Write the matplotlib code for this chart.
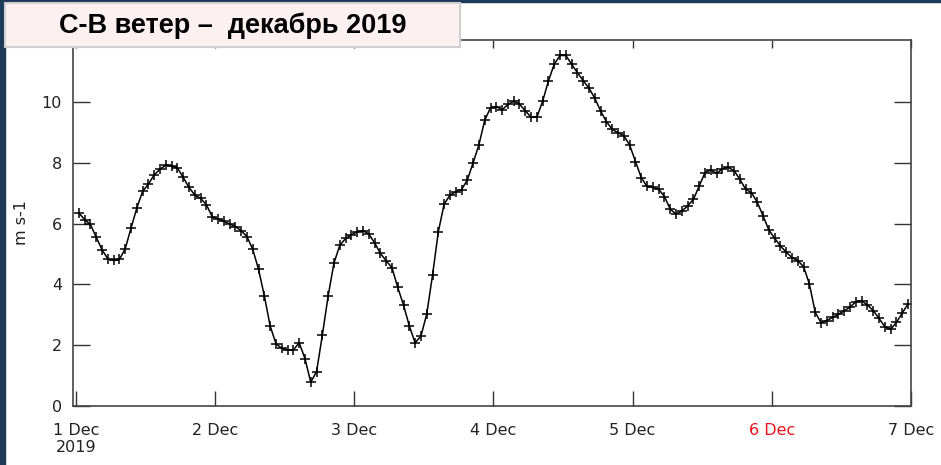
import numpy as np
import pandas as pd
import matplotlib
matplotlib.use("Agg")
import matplotlib.pyplot as plt
import matplotlib.dates as mdates
from matplotlib.patches import Rectangle

# --- data: hourly NE wind speed, m/s ---
wind = [
    6.35, 6.13, 5.97, 5.55, 5.14, 4.84, 4.79, 4.82, 5.17, 5.85, 6.51, 7.06,
    7.30, 7.60, 7.79, 7.92, 7.90, 7.83, 7.52, 7.19, 6.94, 6.83, 6.62, 6.23,
    6.15, 6.07, 5.99, 5.90, 5.77, 5.57, 5.15, 4.49, 3.62, 2.63, 2.05, 1.89,
    1.84, 1.84, 2.08, 1.56, 0.78, 1.13, 2.33, 3.62, 4.70, 5.28, 5.51, 5.63,
    5.73, 5.77, 5.66, 5.37, 5.02, 4.78, 4.55, 3.90, 3.32, 2.63, 2.08, 2.30,
    3.02, 4.30, 5.73, 6.64, 6.93, 7.05, 7.12, 7.43, 8.00, 8.59, 9.40, 9.81,
    9.85, 9.74, 9.92, 10.03, 9.93, 9.71, 9.50, 9.50, 10.03, 10.70, 11.25, 11.53,
    11.53, 11.24, 10.96, 10.70, 10.45, 10.12, 9.70, 9.35, 9.10, 8.99, 8.89, 8.58,
    8.04, 7.51, 7.22, 7.19, 7.13, 6.89, 6.47, 6.32, 6.41, 6.58, 6.80, 7.24,
    7.68, 7.76, 7.65, 7.80, 7.85, 7.74, 7.46, 7.13, 7.02, 6.70, 6.26, 5.79,
    5.52, 5.26, 5.06, 4.88, 4.78, 4.58, 4.01, 3.08, 2.74, 2.81, 2.91, 3.02,
    3.13, 3.25, 3.43, 3.46, 3.32, 3.14, 2.88, 2.61, 2.52, 2.75, 3.05, 3.36,
]
times = pd.date_range("2019-12-01 00:30", periods=len(wind), freq="h")

day_ticks = pd.date_range("2019-12-01", "2019-12-07", freq="D")
day_labels = ["1 Dec\n2019", "2 Dec", "3 Dec", "4 Dec", "5 Dec", "6 Dec", "7 Dec"]
y_ticks = [0, 2, 4, 6, 8, 10]

title = "С-В ветер –  декабрь 2019"

# --- figure ---
fig = plt.figure(figsize=(9.41, 4.65), dpi=100)
ax = fig.add_axes([0.0776, 0.127, 0.8904, 0.787])

ax.plot(times, wind, color="black", linewidth=1.1, marker="+",
        markersize=7.5, markeredgewidth=1.1)

ax.set_xlim(pd.Timestamp("2019-12-01") - pd.Timedelta(minutes=30),
            pd.Timestamp("2019-12-07"))
ax.set_ylim(0, 12.04)

ax.set_xticks(day_ticks)
ax.set_xticklabels(day_labels, fontsize=11.5, color="#222222")
ax.get_xticklabels()[5].set_color("#e8141c")
ax.set_yticks(y_ticks)
ax.set_yticklabels([str(v) for v in y_ticks], fontsize=11.5, color="#222222")

ax.tick_params(axis="x", direction="in", length=11, width=1, color="#333333",
               bottom=True, top=False, pad=12)
ax.tick_params(axis="y", direction="in", length=12, width=1, color="#333333",
               left=True, right=True, pad=8)

# short ticks along the top edge
top = ax.secondary_xaxis("top")
top.set_xticks(day_ticks)
top.tick_params(direction="in", length=6, width=1, color="#333333", labeltop=False)
top.spines["top"].set_visible(False)

for s in ax.spines.values():
    s.set_color("#444444")
    s.set_linewidth(1.2)

ax.set_ylabel("m s-1", fontsize=11.5, color="#222222", labelpad=9)

# dark frame strips (left and top)
fig.patches.append(Rectangle((0, 0), 5 / 941, 1, transform=fig.transFigure,
                             color="#1d3a58", zorder=5))
fig.patches.append(Rectangle((0, 1 - 2 / 465), 1, 2 / 465, transform=fig.transFigure,
                             color="#1d3a58", zorder=5))

# title box
fig.patches.append(Rectangle((5 / 941, 1 - 47 / 465), 455 / 941, 44 / 465,
                             transform=fig.transFigure, facecolor="#fdf0f0",
                             edgecolor="#d0d0d0", linewidth=1.5, zorder=6))
fig.text(233 / 941, 1 - 26 / 465, title, ha="center", va="center",
         fontsize=19.5, fontweight="bold", family="Liberation Sans", zorder=7)

fig.savefig("out.png", dpi=100)
